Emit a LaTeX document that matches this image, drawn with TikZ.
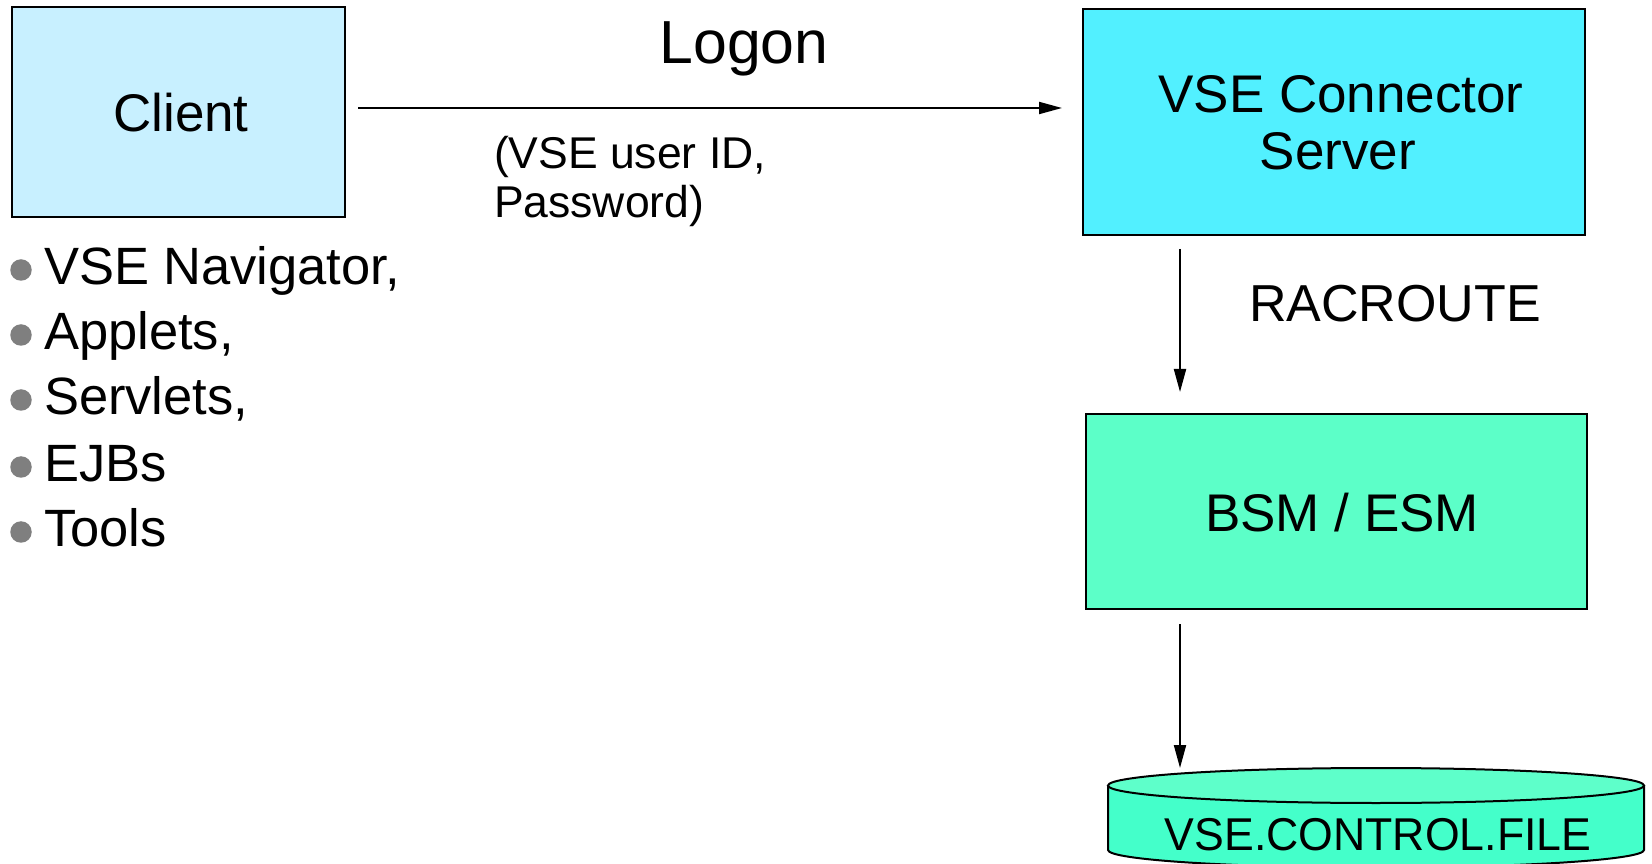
\documentclass[tikz,border=0pt]{standalone}
\usepackage{fontspec}
\setmainfont{Liberation Sans}
\usetikzlibrary{arrows.meta}
\definecolor{clientfill}{HTML}{C8F0FF}
\definecolor{vsefill}{HTML}{52F0FF}
\definecolor{bsmfill}{HTML}{5CFFC8}
\definecolor{cyltop}{HTML}{5EFFCA}
\definecolor{cylbody}{HTML}{44FFCA}
\definecolor{bulletgray}{HTML}{7F7F7F}
\begin{document}
\begin{tikzpicture}[x=1pt,y=1pt,
  box/.style={draw=black, line width=2pt, inner sep=0pt, outer sep=0pt},
  lbl/.style={inner sep=0pt, outer sep=0pt, anchor=base},
  lblw/.style={inner sep=0pt, outer sep=0pt, anchor=base west},
  arr/.style={line width=2pt, -{Triangle[length=23pt,width=12pt]}},
  dot/.style={circle, fill=bulletgray, minimum size=21.5pt, inner sep=0pt, outer sep=0pt},
  big/.style={font=\fontsize{53}{63}\selectfont},
  bul/.style={font=\fontsize{52.5}{63}\selectfont}]
\useasboundingbox (0,0) rectangle (1652,863);
% boxes
\node[box, fill=clientfill, minimum width=333pt, minimum height=210pt] (client) at (178.5,751) {};
\node[lbl, big] (clientlbl) at (181,731) {Client};
\node[box, fill=vsefill, minimum width=502pt, minimum height=226pt] (vse) at (1334,741) {};
\node[lbl, font=\fontsize{53}{63}\selectfont] (vselbl1) at (1341,750) {VSE Connector};
\node[lbl, font=\fontsize{53}{63}\selectfont] (vselbl2) at (1338,693) {Server};
\node[box, fill=bsmfill, minimum width=501pt, minimum height=195pt] (bsm) at (1336.5,351.5) {};
\node[lbl, big] (bsmlbl) at (1342,331) {BSM / ESM};
% cylinder
\node[inner sep=0pt, outer sep=0pt, minimum width=536pt, minimum height=99pt] (db) at (1376,45.5) {};
\fill[cylbody] (1108,77.5) -- (1108,13) arc[start angle=180, end angle=360, x radius=268, y radius=17.5] -- (1644,77.5) -- cycle;
\draw[line width=2pt] (1108,77.5) -- (1108,13) arc[start angle=180, end angle=360, x radius=268, y radius=17.5] -- (1644,77.5);
\draw[line width=2pt, fill=cyltop] (1376,77.5) ellipse [x radius=268, y radius=17.5];
\node[lbl, font=\fontsize{46}{55}\selectfont, xscale=0.97] (dblbl) at (1378,13) {VSE.CONTROL.FILE};
% labels
\node[lbl, font=\fontsize{60.8}{72}\selectfont] (logon) at (744,799) {Logon};
\node[lblw, font=\fontsize{44.5}{53}\selectfont] (cred1) at (494,694) {(VSE user ID,};
\node[lblw, font=\fontsize{44.5}{53}\selectfont] (cred2) at (494,645) {Password)};
\node[lblw, font=\fontsize{52}{62}\selectfont] (racf) at (1249,541) {RACROUTE};
% connectors
\coordinate (lstart) at ([yshift=4pt]client.east);
\coordinate (ax) at (1180,0);
\draw[arr, shorten <=13pt, shorten >=21pt] (lstart) -- (lstart -| vse.west);
\draw[arr, shorten <=14pt, shorten >=22pt] (vse.south -| ax) -- (bsm.north -| ax);
\draw[arr, shorten <=15pt] (bsm.south -| ax) -- (db.north -| ax);
% bullets
\node[dot] (d1) at (21,593) {};
\node[dot] (d2) at (21,528) {};
\node[dot] (d3) at (21,463) {};
\node[dot] (d4) at (21,396) {};
\node[dot] (d5) at (21,331) {};
\node[lblw, bul] (b1) at (44,578) {VSE Navigator,};
\node[lblw, bul] (b2) at (44,513) {Applets,};
\node[lblw, bul] (b3) at (44,448) {Servlets,};
\node[lblw, bul] (b4) at (44,381) {EJBs};
\node[lblw, bul] (b5) at (44,316) {Tools};
\end{tikzpicture}
\end{document}
